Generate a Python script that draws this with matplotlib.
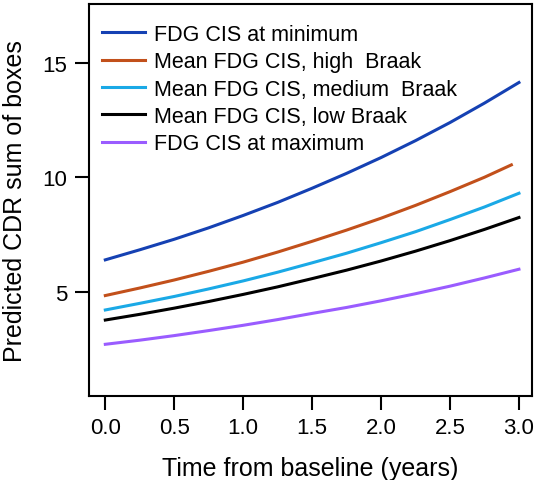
#!/usr/bin/env python3

# Predicted CDR sum of boxes over time, by FDG CIS / Braak group

import matplotlib
matplotlib.use("Agg")
from matplotlib import pyplot as plt

params = {
    'font.family': ['Liberation Sans', 'DejaVu Sans'],
    'font.size': 15.5,
    'axes.linewidth': 1.5,
    'xtick.major.width': 1.5,
    'ytick.major.width': 1.5,
    'xtick.major.size': 10,
    'ytick.major.size': 10,
    'xtick.labelsize': 16,
    'ytick.labelsize': 16,
    'axes.labelsize': 18,
}
matplotlib.rcParams.update(params)

# time points (years)
t = [0.0, 0.25, 0.5, 0.75, 1.0, 1.25, 1.5, 1.75, 2.0, 2.25, 2.5, 2.75, 3.0]
t_high = [0.0, 0.25, 0.5, 0.75, 1.0, 1.25, 1.5, 1.75, 2.0, 2.25, 2.5, 2.75, 2.945]

cis_min = [6.39, 6.83, 7.29, 7.79, 8.33, 8.90, 9.52, 10.17, 10.86, 11.60, 12.39, 13.24, 14.14]
high_braak = [4.83, 5.16, 5.51, 5.89, 6.29, 6.73, 7.20, 7.69, 8.21, 8.77, 9.37, 10.00, 10.54]
medium_braak = [4.20, 4.49, 4.79, 5.12, 5.47, 5.85, 6.26, 6.68, 7.14, 7.62, 8.15, 8.70, 9.30]
low_braak = [3.76, 4.01, 4.28, 4.57, 4.88, 5.21, 5.57, 5.94, 6.34, 6.77, 7.23, 7.72, 8.24]
cis_max = [2.70, 2.88, 3.08, 3.30, 3.53, 3.78, 4.05, 4.31, 4.60, 4.91, 5.24, 5.60, 5.98]

labels = ["FDG CIS at minimum", "Mean FDG CIS, high  Braak",
          "Mean FDG CIS, medium  Braak", "Mean FDG CIS, low Braak",
          "FDG CIS at maximum"]
colors = ["#1541b3", "#c2501b", "#1aa9e6", "#000000", "#9a5cff"]

fig = plt.figure(figsize=(5.4, 4.81), dpi=100)
ax = fig.add_axes([0.1654, 0.1746, 0.8196, 0.815])

ax.plot(t, cis_min, color=colors[0], lw=2.2, label=labels[0])
ax.plot(t_high, high_braak, color=colors[1], lw=2.2, label=labels[1])
ax.plot(t, medium_braak, color=colors[2], lw=2.2, label=labels[2])
ax.plot(t, low_braak, color=colors[3], lw=2.2, label=labels[3])
ax.plot(t, cis_max, color=colors[4], lw=2.2, label=labels[4])

ax.set_xlim(-0.116, 3.094)
ax.set_ylim(0.44, 17.57)
ax.set_xticks([0.0, 0.5, 1.0, 1.5, 2.0, 2.5, 3.0])
ax.set_xticklabels(["0.0", "0.5", "1.0", "1.5", "2.0", "2.5", "3.0"])
ax.set_yticks([5, 10, 15])
ax.tick_params(axis='x', pad=5)
ax.tick_params(axis='y', pad=6)

ax.set_xlabel("Time from baseline (years)", labelpad=13)
ax.set_ylabel("Predicted CDR sum of boxes", labelpad=11)

ax.legend(loc='upper left', bbox_to_anchor=(0.028, 0.95), frameon=False,
          borderpad=0, borderaxespad=0, handlelength=2.0, handletextpad=0.45,
          labelspacing=0.3)

plt.savefig("out.png", dpi=100)
